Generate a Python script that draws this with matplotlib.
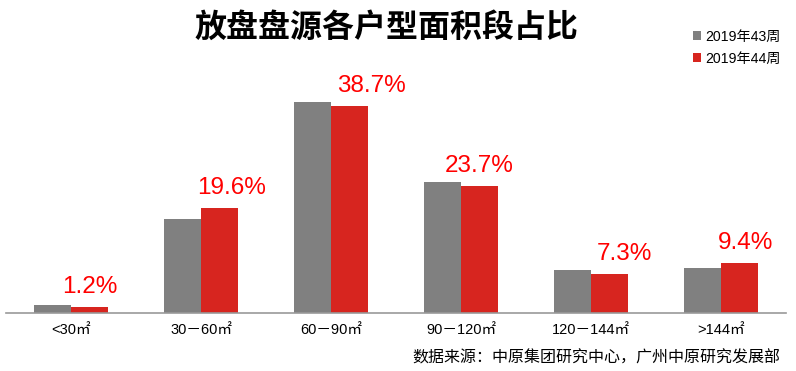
import matplotlib
matplotlib.use("Agg")
import matplotlib.pyplot as plt
import numpy as np

# data
categories = ["<30㎡", "30－60㎡", "60－90㎡", "90－120㎡", "120－144㎡", ">144㎡"]
week43 = [1.5, 17.6, 39.4, 24.5, 8.0, 8.4]
week44 = [1.2, 19.6, 38.7, 23.7, 7.3, 9.4]
series_names = ["2019年43周", "2019年44周"]

# small horizontal nudges (points) for the red value labels, as in the source
label_nudge = [0, 9, 16, 0, 11, 4]

grey = "#808080"
red = "#D7251F"
latin = ["Liberation Sans", "Noto Sans CJK SC", "DejaVu Sans"]
cjk = ["Noto Sans CJK SC", "DejaVu Sans"]

fig = plt.figure(figsize=(7.96, 3.71), dpi=100)
ax = fig.add_axes([0.0075, 0.1563, 0.98, 0.65])

x = np.arange(len(categories))
w = 0.285
b1 = ax.bar(x - w / 2, week43, w, color=grey, label=series_names[0])
b2 = ax.bar(x + w / 2, week44, w, color=red, label=series_names[1])

for xi, v, dx in zip(x, week44, label_nudge):
    ax.annotate(f"{v:.1f}%", (xi + w / 2, v), xytext=(dx, 10),
                textcoords="offset points", ha="center", va="baseline",
                color="#FF0000", fontsize=17.5, family=latin)

ax.set_xlim(-0.5, 5.5)
ax.set_ylim(0, 45)
ax.set_yticks([])
ax.set_xticks(x)
ax.set_xticklabels(categories, fontsize=10.5, family=latin)
ax.tick_params(axis="x", length=0, pad=7)
for s in ["top", "right", "left"]:
    ax.spines[s].set_visible(False)
ax.spines["bottom"].set_color("#999999")
ax.spines["bottom"].set_linewidth(1.2)

fig.text(0.485, 0.925, "放盘盘源各户型面积段占比", ha="center", va="center",
         fontsize=23, weight="bold", family=cjk)

leg = fig.legend(handles=[b1, b2], loc="upper right", bbox_to_anchor=(0.997, 0.955),
                 frameon=False, prop={"family": latin, "size": 10.2},
                 handlelength=0.6, handleheight=0.6, handletextpad=0.3,
                 labelspacing=0.6)

fig.text(0.98, 0.035, "数据来源：中原集团研究中心，广州中原研究发展部", ha="right",
         va="center", fontsize=11.5, family=cjk)

fig.savefig("out.png", dpi=100)
